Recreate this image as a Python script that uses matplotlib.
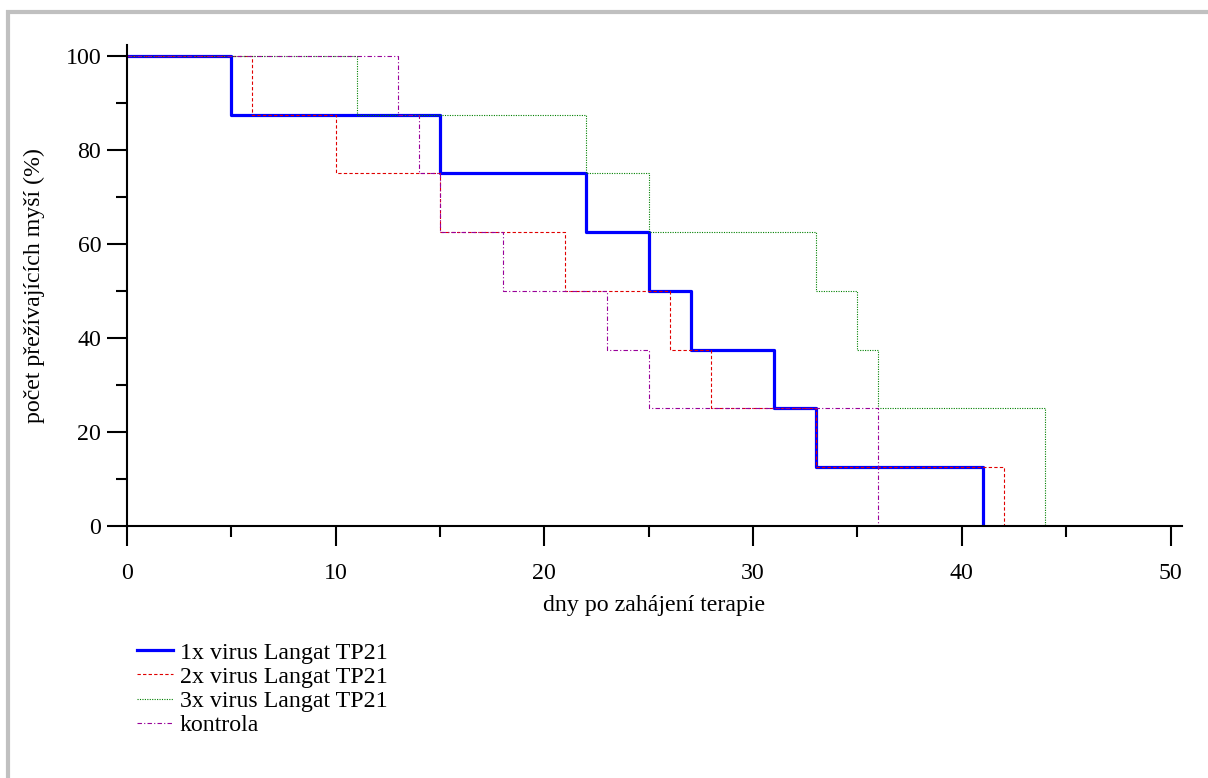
import matplotlib
matplotlib.use("Agg")
import matplotlib.pyplot as plt
from matplotlib.lines import Line2D
from matplotlib.ticker import MultipleLocator

plt.rcParams['font.family'] = ['Liberation Serif', 'DejaVu Serif']

# Data (days, survival %)
days_1x = [0, 5, 15, 22, 25, 27, 31, 33, 41]
surv_1x = [100, 87.5, 75, 62.5, 50, 37.5, 25, 12.5, 0]
days_2x = [0, 6, 10, 15, 21, 26, 28, 33, 42]
surv_2x = [100, 87.5, 75, 62.5, 50, 37.5, 25, 12.5, 0]
days_3x = [0, 11, 22, 25, 33, 35, 36, 44]
surv_3x = [100, 87.5, 75, 62.5, 50, 37.5, 25, 0]
days_k = [0, 13, 14, 15, 18, 23, 25, 36]
surv_k = [100, 87.5, 75, 62.5, 50, 37.5, 25, 0]
labels = ["1x virus Langat TP21", "2x virus Langat TP21", "3x virus Langat TP21", "kontrola"]

FS = 17.2
W, H = 1208, 778
fig = plt.figure(figsize=(W / 100, H / 100), dpi=100)
ax = fig.add_axes([127 / W, 1 - 526 / H, (1182 - 127) / W, (526 - 45) / H])

ax.step(days_1x, surv_1x, where='post', color='#0000ff', lw=2.3, label=labels[0])
ax.step(days_2x, surv_2x, where='post', color='#e00000', lw=0.8, ls=(0, (3, 2)), label=labels[1])
ax.step(days_3x, surv_3x, where='post', color='#008000', lw=0.8, ls=(0, (1, 1.2)), label=labels[2])
ax.step(days_k, surv_k, where='post', color='#990099', lw=0.8, ls=(0, (4, 2, 1, 2)), label=labels[3])

ax.set_xlim(0, 50.55)
ax.set_ylim(0, 102.3)
for s in ['top', 'right']:
    ax.spines[s].set_visible(False)
for s in ['left', 'bottom']:
    ax.spines[s].set_linewidth(1.5)

ax.xaxis.set_major_locator(MultipleLocator(10))
ax.xaxis.set_minor_locator(MultipleLocator(5))
ax.yaxis.set_major_locator(MultipleLocator(20))
ax.yaxis.set_minor_locator(MultipleLocator(10))
ax.tick_params(axis='both', which='major', direction='out', length=14.5, width=1.5, labelsize=FS)
ax.tick_params(axis='both', which='minor', direction='out', length=8, width=1.5)
ax.tick_params(axis='x', which='major', pad=12)
ax.tick_params(axis='y', which='major', pad=4)

ax.set_xlabel("dny po zahájení terapie", fontsize=FS, labelpad=8)
ax.set_ylabel("počet přežívajících myší (%)", fontsize=FS, labelpad=15)

fig.legend(loc='upper left', bbox_to_anchor=(137 / W, 1 - 642 / H), frameon=False,
           fontsize=FS, handlelength=1.5, handletextpad=0.3, labelspacing=0.1,
           borderpad=0, borderaxespad=0)

# gray frame (top and left)
fig.add_artist(Line2D([6 / W, 1], [1 - 12 / H, 1 - 12 / H], transform=fig.transFigure,
                      color='#c0c0c0', lw=3, solid_capstyle='butt'))
fig.add_artist(Line2D([8 / W, 8 / W], [0, 1 - 10 / H], transform=fig.transFigure,
                      color='#c0c0c0', lw=3, solid_capstyle='butt'))

fig.savefig("out.png", dpi=100)
